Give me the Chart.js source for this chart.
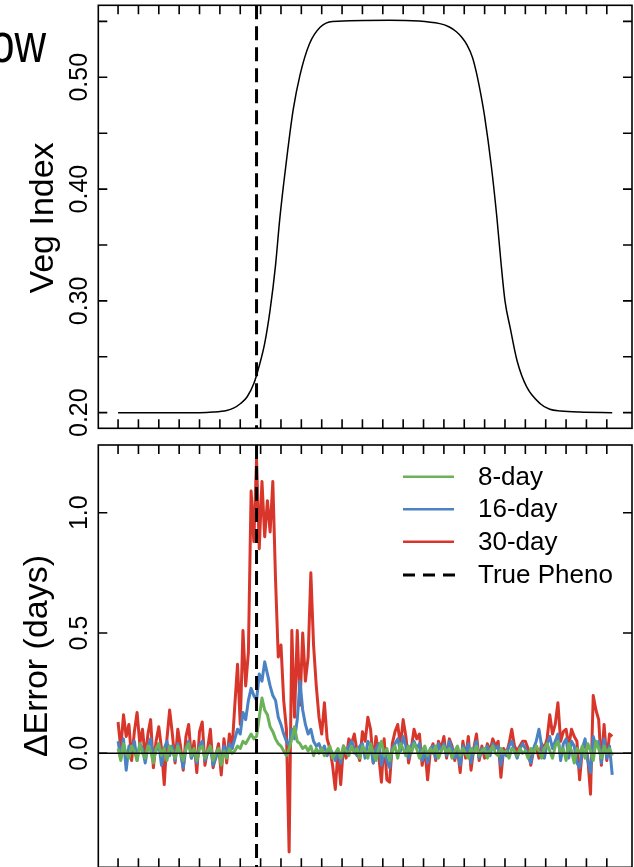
<!DOCTYPE html>
<html>
<head>
<meta charset="utf-8">
<script src="https://cdn.jsdelivr.net/npm/chart.js@4.4.1/dist/chart.umd.min.js"></script>
<style>
  html, body { margin: 0; padding: 0; background: #fff; overflow: hidden; }
  #wrap { position: relative; width: 634px; height: 867px; }
  canvas { position: absolute; left: 0; }
  #graficoVeg { top: 0; }
  #graficoError { top: 437px; }
</style>
</head>
<body>
<div id="wrap">
  <canvas id="graficoVeg" width="634" height="437" style="width:634px;height:437px"></canvas>
  <canvas id="graficoError" width="634" height="431" style="width:634px;height:431px"></canvas>
</div>
<script>
// Día de la fenología verdadera (línea discontinua)
const diaFenologia = 102;

// Curva del índice de vegetación
const diasCurva = [0, 60, 70, 80, 85, 90, 95, 100, 104, 108, 112, 116, 119, 122, 125, 129, 134, 141, 149, 158,
  200, 237, 244, 249, 253, 257, 261, 264, 267, 270, 275, 279, 282, 285, 289, 294, 301, 311, 318, 326, 340, 364];
const indiceVeg = [0.200, 0.200, 0.2005, 0.202, 0.204, 0.208, 0.214, 0.226, 0.242, 0.262, 0.292, 0.332, 0.372, 0.405, 0.435, 0.471, 0.502, 0.530, 0.545, 0.550,
  0.551, 0.548, 0.545, 0.541, 0.536, 0.529, 0.518, 0.504, 0.486, 0.465, 0.420, 0.375, 0.335, 0.300, 0.275, 0.246, 0.223, 0.208, 0.203, 0.2015, 0.2005, 0.200];

// Días de muestreo del error
const dias = [0, 2, 4, 6, 8, 10, 12, 14, 16, 18, 20, 22, 24, 26, 28, 30, 32, 34, 36, 38,
  40, 42, 44, 46, 48, 50, 52, 54, 56, 58, 60, 62, 64, 66, 68, 70, 72, 74, 76, 78,
  80, 82, 84, 86, 88, 90, 92, 94, 96, 98, 100, 102, 104, 106, 108, 110, 112, 114, 116, 118,
  120, 122, 124, 126, 128, 130, 132, 134, 136, 138, 140, 142, 144, 146, 148, 150, 152, 154, 156, 158,
  160, 162, 164, 166, 168, 170, 172, 174, 176, 178, 180, 182, 184, 186, 188, 190, 192, 194, 196, 198,
  200, 202, 204, 206, 208, 210, 212, 214, 216, 218, 220, 222, 224, 226, 228, 230, 232, 234, 236, 238,
  240, 242, 244, 246, 248, 250, 252, 254, 256, 258, 260, 262, 264, 266, 268, 270, 272, 274, 276, 278,
  280, 282, 284, 286, 288, 290, 292, 294, 296, 298, 300, 302, 304, 306, 308, 310, 312, 314, 316, 318,
  320, 322, 324, 326, 328, 330, 332, 334, 336, 338, 340, 342, 344, 346, 348, 350, 352, 354, 356, 358,
  360, 362, 364];

// ΔError por resolución temporal
const error8 = [0.02, -0.03, 0.04, 0.00, -0.02, 0.03, 0.01, -0.03, 0.04, 0.00,
  -0.02, 0.03, 0.01, -0.04, 0.02, 0.04, -0.01, 0.02, -0.03, 0.03,
  0.01, -0.02, 0.03, 0.00, -0.03, 0.02, 0.04, -0.01, 0.02, -0.03,
  0.02, 0.03, -0.02, 0.01, 0.03, -0.03, 0.00, 0.02, -0.05, 0.01,
  -0.02, 0.02, 0.00, 0.01, 0.03, 0.02, 0.05, 0.04, 0.06, 0.08,
  0.06, 0.07, 0.15, 0.23, 0.18, 0.16, 0.11, 0.09, 0.06, 0.04,
  0.03, 0.01, -0.01, 0.02, 0.06, 0.11, 0.05, 0.04, 0.02, 0.03,
  0.01, 0.03, -0.01, 0.02, 0.00, 0.02, -0.01, 0.01, 0.03, -0.02,
  0.00, 0.02, -0.02, 0.03, 0.01, -0.01, 0.03, 0.00, 0.02, -0.02,
  0.03, 0.01, -0.02, 0.04, 0.00, -0.03, 0.02, 0.05, -0.01, 0.02,
  -0.03, 0.01, 0.03, -0.02, 0.04, 0.02, -0.01, 0.03, 0.00, 0.04,
  0.02, -0.02, 0.01, 0.03, -0.01, 0.02, 0.00, 0.03, -0.02, 0.01,
  0.03, 0.00, 0.02, -0.02, 0.01, 0.03, -0.01, 0.02, 0.00, -0.02,
  0.02, 0.00, 0.03, -0.01, 0.01, 0.02, -0.02, 0.01, 0.03, 0.00,
  -0.01, 0.02, 0.00, 0.01, -0.02, 0.02, 0.01, -0.01, 0.02, 0.00,
  0.01, -0.02, 0.02, 0.00, 0.03, 0.01, -0.02, 0.02, 0.04, 0.01,
  -0.02, 0.03, 0.05, 0.00, 0.02, -0.03, 0.04, 0.01, -0.04, 0.02,
  0.00, 0.03, -0.02, 0.04, 0.01, -0.03, 0.05, 0.02, -0.02, 0.03,
  0.00, 0.02, -0.01];
const error16 = [0.05, -0.02, 0.06, -0.07, 0.03, 0.01, 0.05, -0.03, 0.04, 0.02,
  -0.04, 0.03, 0.06, -0.02, 0.01, 0.04, -0.05, 0.02, 0.05, -0.01,
  0.03, -0.03, 0.04, 0.00, -0.06, 0.02, 0.05, -0.02, 0.01, -0.04,
  0.03, 0.05, -0.03, 0.00, 0.03, -0.05, -0.02, 0.02, -0.04, 0.03,
  0.00, 0.04, 0.02, 0.06, 0.10, 0.08, 0.17, 0.14, 0.22, 0.27,
  0.24, 0.22, 0.33, 0.30, 0.38, 0.33, 0.28, 0.24, 0.22, 0.15,
  0.12, 0.08, 0.05, 0.03, 0.10, 0.06, 0.14, 0.30, 0.18, 0.12,
  0.08, 0.10, 0.05, 0.03, 0.04, 0.01, 0.03, -0.01, 0.02, 0.00,
  -0.03, 0.01, -0.04, 0.02, 0.00, 0.03, 0.05, 0.02, -0.01, 0.03,
  0.04, -0.02, 0.05, 0.03, -0.04, 0.02, 0.04, -0.05, 0.01, -0.03,
  -0.06, 0.02, 0.04, 0.06, 0.01, 0.07, 0.03, -0.02, 0.03, 0.05,
  0.02, 0.04, -0.03, 0.01, -0.04, 0.02, 0.03, -0.02, 0.04, 0.01,
  0.04, -0.01, 0.05, 0.02, -0.02, 0.01, -0.05, 0.03, 0.00, 0.04,
  -0.04, 0.02, 0.05, -0.02, 0.02, 0.00, 0.03, -0.01, 0.04, 0.02,
  0.03, -0.05, 0.01, -0.01, 0.03, 0.05, 0.01, -0.02, 0.02, 0.04,
  0.02, -0.01, -0.04, 0.02, 0.05, 0.10, 0.03, -0.02, 0.04, 0.07,
  0.02, 0.05, 0.08, -0.03, 0.04, 0.06, -0.02, 0.05, 0.03, -0.04,
  -0.06, 0.02, 0.06, -0.03, -0.08, 0.07, 0.03, 0.05, -0.04, 0.06,
  -0.02, 0.03, -0.09];
const error30 = [0.13, 0.02, 0.16, 0.07, 0.12, -0.03, 0.09, 0.17, 0.04, 0.10,
  -0.02, 0.08, 0.14, -0.06, 0.05, 0.11, 0.02, -0.13, 0.06, 0.18,
  0.08, -0.04, 0.10, 0.03, -0.07, 0.07, 0.12, -0.02, 0.05, -0.08,
  0.09, 0.13, -0.05, 0.02, 0.10, -0.06, -0.01, 0.04, -0.09, 0.06,
  -0.04, 0.08, 0.02, 0.20, 0.37, 0.12, 0.51, 0.28, 0.42, 1.09,
  0.88, 1.22, 0.85, 1.13, 0.90, 1.05, 0.92, 1.13, 0.72, 0.40,
  0.45, 0.22, 0.10, -0.41, 0.51, 0.15, 0.51, 0.20, 0.50, 0.30,
  0.40, 0.75, 0.45, 0.28, 0.15, 0.08, 0.21, 0.06, 0.02, -0.05,
  -0.15, 0.01, -0.13, 0.03, -0.02, 0.06, 0.04, 0.08, 0.01, -0.03,
  0.09, 0.05, 0.15, 0.10, -0.04, 0.07, -0.01, -0.12, 0.06, -0.11,
  -0.12, 0.04, 0.09, 0.12, 0.03, 0.14, 0.07, -0.04, 0.02, 0.10,
  0.06, 0.08, -0.05, 0.02, -0.11, 0.01, 0.04, -0.03, 0.05, 0.02,
  0.07, -0.02, 0.06, 0.03, -0.03, 0.02, -0.08, 0.05, -0.02, 0.07,
  -0.07, 0.02, 0.08, -0.03, 0.03, -0.02, 0.04, 0.01, 0.06, 0.03,
  0.05, -0.10, 0.02, 0.00, 0.04, 0.10, 0.03, 0.01, 0.03, 0.05,
  0.05, 0.02, -0.05, 0.01, 0.03, -0.02, 0.04, 0.02, 0.06, 0.16,
  0.08, 0.12, 0.21, 0.05, 0.09, 0.10, 0.03, 0.10, 0.07, 0.05,
  -0.11, 0.02, 0.04, -0.02, -0.17, 0.24, 0.18, 0.14, -0.05, 0.12,
  -0.03, 0.08, 0.07];

// Marcas de los ejes
const ticksX = [0, 15, 30, 45, 60, 75, 90, 105, 120, 135, 150, 165, 180, 195, 210, 225, 240, 255, 270, 285, 300, 315, 330, 345, 360];
const ticksVeg = [0.20, 0.25, 0.30, 0.35, 0.40, 0.45, 0.50, 0.55];
const etiquetasVeg = [0.20, 0.30, 0.40, 0.50];
const ticksError = [0.0, 0.5, 1.0];

const fuente = '"Liberation Sans", Arial, Helvetica, sans-serif';

// Marco estilo R: caja, ticks hacia dentro, etiquetas giradas, línea de fenología
const marcoR = {
    id: 'marcoR',
    afterDatasetsDraw(chart, args, opts) {
        const ctx = chart.ctx;
        const { left, right, top, bottom } = chart.chartArea;
        const sx = chart.scales.x, sy = chart.scales.y;
        ctx.save();
        ctx.strokeStyle = '#000';
        ctx.fillStyle = '#000';

        if (opts.lineaCero) {
            const y0 = sy.getPixelForValue(0);
            ctx.lineWidth = 1.6;
            ctx.beginPath(); ctx.moveTo(left, y0); ctx.lineTo(right, y0); ctx.stroke();
        }

        // fenología verdadera
        const xf = sx.getPixelForValue(diaFenologia);
        ctx.lineWidth = 3;
        ctx.setLineDash([14, 7]);
        ctx.beginPath(); ctx.moveTo(xf, top); ctx.lineTo(xf, bottom); ctx.stroke();
        ctx.setLineDash([]);

        // caja y ticks
        ctx.lineWidth = 1.6;
        ctx.strokeRect(left, top, right - left, bottom - top);
        const tl = 9;
        ctx.beginPath();
        ticksX.forEach(v => {
            const px = sx.getPixelForValue(v);
            ctx.moveTo(px, top); ctx.lineTo(px, top + tl);
            ctx.moveTo(px, bottom); ctx.lineTo(px, bottom - tl);
        });
        opts.ticksY.forEach(v => {
            const py = sy.getPixelForValue(v);
            ctx.moveTo(left, py); ctx.lineTo(left + tl, py);
            ctx.moveTo(right, py); ctx.lineTo(right - tl, py);
        });
        ctx.stroke();

        // etiquetas del eje y (giradas)
        ctx.font = '25px ' + fuente;
        ctx.textAlign = 'center';
        ctx.textBaseline = 'alphabetic';
        opts.etiquetasY.forEach(v => {
            const py = sy.getPixelForValue(v);
            ctx.save();
            ctx.translate(87, py);
            ctx.rotate(-Math.PI / 2);
            ctx.fillText(v.toFixed(opts.decimales), 0, 0);
            ctx.restore();
        });

        // título del eje y
        ctx.font = '34px ' + fuente;
        ctx.save();
        ctx.translate(opts.tituloX, opts.tituloY);
        ctx.rotate(-Math.PI / 2);
        ctx.fillText(opts.titulo, 0, 0);
        ctx.restore();

        // texto cortado arriba a la izquierda
        if (opts.encabezado) {
            ctx.save();
            ctx.translate(46, 62);
            ctx.scale(0.78, 1);
            ctx.font = '56px ' + fuente;
            ctx.textAlign = 'right';
            ctx.fillText(opts.encabezado, 0, 0);
            ctx.restore();
        }

        // leyenda
        if (opts.leyenda) {
            const filas = [476.7, 509.3, 541.7, 575];
            const items = chart.data.datasets;
            ctx.font = '26px ' + fuente;
            ctx.textAlign = 'left';
            ctx.textBaseline = 'middle';
            items.forEach((ds, i) => {
                const y = top - 445 + filas[i];
                ctx.strokeStyle = ds.borderColor;
                ctx.lineWidth = 2.5;
                ctx.beginPath(); ctx.moveTo(403, y); ctx.lineTo(454, y); ctx.stroke();
                ctx.fillText(ds.label, 478, y + 1);
            });
            const y = top - 445 + filas[3];
            ctx.strokeStyle = '#000';
            ctx.lineWidth = 3;
            ctx.setLineDash([12, 8]);
            ctx.beginPath(); ctx.moveTo(403, y); ctx.lineTo(455, y); ctx.stroke();
            ctx.setLineDash([]);
            ctx.fillText('True Pheno', 478, y + 1);
        }
        ctx.restore();
    }
};

const escalaX = { type: 'linear', min: -14.56, max: 378.56, display: false };

function aPuntos(xs, ys) {
    return xs.map((x, i) => ({ x: x, y: ys[i] }));
}

// Panel superior: índice de vegetación
new Chart(document.getElementById('graficoVeg').getContext('2d'), {
    type: 'line',
    data: {
        datasets: [{
            label: 'Veg Index',
            data: aPuntos(diasCurva, indiceVeg),
            borderColor: '#000',
            borderWidth: 1.5,
            pointRadius: 0,
            cubicInterpolationMode: 'monotone'
        }]
    },
    options: {
        responsive: false,
        animation: false,
        layout: { padding: { left: 98.3, right: 2, top: 5.3, bottom: 8.7 } },
        scales: {
            x: escalaX,
            y: { type: 'linear', min: 0.186, max: 0.5644, display: false }
        },
        plugins: {
            legend: { display: false },
            tooltip: { enabled: false },
            marcoR: {
                ticksY: ticksVeg,
                etiquetasY: etiquetasVeg,
                decimales: 2,
                titulo: 'Veg Index',
                tituloX: 53,
                tituloY: 218,
                encabezado: 'Slow'
            }
        }
    },
    plugins: [marcoR]
});

// Panel inferior: ΔError (el primero se dibuja encima: verde sobre azul sobre rojo)
const estiloRuido = { borderWidth: 3, pointRadius: 0, borderJoinStyle: 'round' };
new Chart(document.getElementById('graficoError').getContext('2d'), {
    type: 'line',
    data: {
        datasets: [
            { label: '8-day', data: aPuntos(dias, error8), borderColor: '#6bb158', ...estiloRuido },
            { label: '16-day', data: aPuntos(dias, error16), borderColor: '#4a82c4', ...estiloRuido },
            { label: '30-day', data: aPuntos(dias, error30), borderColor: '#d8362b', ...estiloRuido }
        ]
    },
    options: {
        responsive: false,
        animation: false,
        layout: { padding: { left: 98.3, right: 2, top: 8, bottom: 0.7 } },
        scales: {
            x: escalaX,
            y: { type: 'linear', min: -0.4738, max: 1.2814, display: false }
        },
        plugins: {
            legend: { display: false },
            tooltip: { enabled: false },
            marcoR: {
                lineaCero: true,
                ticksY: ticksError,
                etiquetasY: ticksError,
                decimales: 1,
                titulo: 'ΔError (days)',
                tituloX: 47,
                tituloY: 219,
                leyenda: true
            }
        }
    },
    plugins: [marcoR]
});
</script>
</body>
</html>
